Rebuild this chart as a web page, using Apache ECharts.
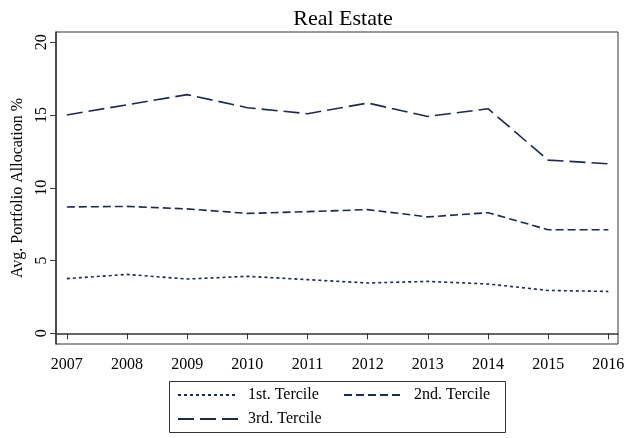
<!DOCTYPE html>
<html>
<head>
<meta charset="utf-8">
<script src="https://cdn.jsdelivr.net/npm/echarts@6/dist/echarts.min.js"></script>
<style>
  html, body { margin: 0; padding: 0; background: #fff; }
  #main { width: 629px; height: 438px; }
</style>
</head>
<body>
<div id="main"></div>
<script>
// years on the x axis
const years = [2007, 2008, 2009, 2010, 2011, 2012, 2013, 2014, 2015, 2016];
// avg. portfolio allocation in real estate, %
const tercile1 = [3.76, 4.05, 3.73, 3.92, 3.69, 3.46, 3.57, 3.39, 2.95, 2.88];
const tercile2 = [8.68, 8.72, 8.55, 8.24, 8.36, 8.50, 8.00, 8.29, 7.12, 7.12];
const tercile3 = [15.0, 15.7, 16.4, 15.5, 15.09, 15.82, 14.9, 15.43, 11.9, 11.65];
const yTicks = [0, 5, 10, 15, 20];

const navy = '#1b2a4c';
const font = 'Liberation Serif';

const chartDom = document.getElementById('main');
const myChart = echarts.init(chartDom);

function pairs(vals) {
  return years.map((y, i) => [y, vals[i]]);
}

function makeSeries(name, vals, dash) {
  return {
    name: name,
    type: 'line',
    data: pairs(vals),
    symbol: 'none',
    animation: false,
    lineStyle: { color: navy, width: 1.6, type: dash },
    itemStyle: { color: navy }
  };
}

// one legend per entry so each can sit where the original puts it
function makeLegend(name, left, top) {
  return {
    data: [name],
    left: left,
    top: top,
    itemWidth: 60,
    itemHeight: 12,
    itemGap: 0,
    padding: 0,
    itemStyle: { opacity: 0 },  // hide the dot, keep the dashed line
    textStyle: { fontFamily: font, fontSize: 16, color: '#000', padding: [0, 0, 0, 5] }
  };
}

const option = {
  backgroundColor: '#fff',
  title: {
    text: 'Real Estate',
    left: 338,
    top: 3,
    textAlign: 'center',
    textStyle: { fontFamily: font, fontSize: 22, fontWeight: 'normal', color: '#000' }
  },
  grid: {
    left: 56, right: 11, top: 32, bottom: 94,
    show: true, borderColor: '#333', borderWidth: 1
  },
  xAxis: {
    type: 'value',
    min: 2006.82,
    max: 2016.16,
    splitLine: { show: false },
    axisLine: { lineStyle: { color: '#333', width: 1.5 } },
    axisTick: { length: 6, customValues: years, lineStyle: { color: '#333' } },
    axisLabel: {
      customValues: years, margin: 13,
      fontFamily: font, fontSize: 16, color: '#000',
      formatter: v => String(v)
    }
  },
  yAxis: {
    type: 'value',
    min: -0.73,
    max: 20.7,
    name: 'Avg. Portfolio Allocation %',
    nameLocation: 'middle',
    nameGap: 27,
    nameRotate: 90,
    nameTextStyle: { fontFamily: font, fontSize: 16, color: '#000' },
    splitLine: { show: false },
    axisLine: { show: true, lineStyle: { color: '#333', width: 1.5 } },
    axisTick: { show: true, length: 6, customValues: yTicks, lineStyle: { color: '#333' } },
    axisLabel: {
      customValues: yTicks, rotate: 90, margin: 6,
      fontFamily: font, fontSize: 16, color: '#000'
    }
  },
  legend: [
    makeLegend('1st. Tercile', 177, 387),
    makeLegend('2nd. Tercile', 343, 387),
    makeLegend('3rd. Tercile', 177, 411)
  ],
  graphic: [{
    type: 'rect',
    shape: { x: 169.5, y: 381.5, width: 336, height: 51 },
    style: { fill: 'none', stroke: '#333', lineWidth: 1 }
  }],
  series: [
    makeSeries('1st. Tercile', tercile1, [3, 3]),
    makeSeries('2nd. Tercile', tercile2, [8, 4]),
    makeSeries('3rd. Tercile', tercile3, [16, 6])
  ]
};

option && myChart.setOption(option);
</script>
</body>
</html>
